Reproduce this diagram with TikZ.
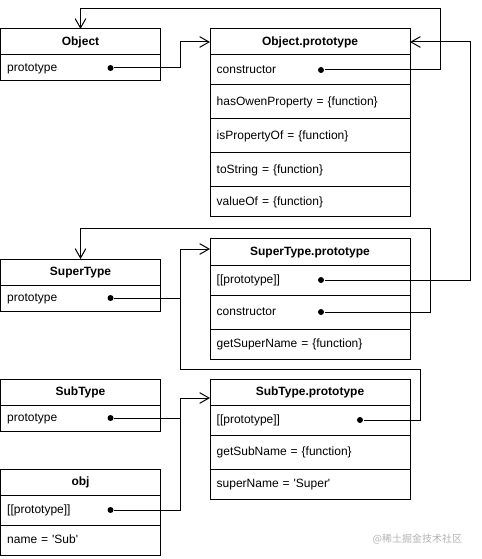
\documentclass[tikz,border=0pt]{standalone}
\usepackage{fontspec}
\setmainfont{Liberation Sans}
\newfontfamily\cjkfont{Noto Sans CJK SC}
\usetikzlibrary{arrows.meta,calc}
\newcommand\fsz{\fontsize{9}{11}\selectfont}
\begin{document}
\begin{tikzpicture}[x=0.75pt,y=-0.75pt,line width=0.75pt,
  hdrW/.style={draw,anchor=north west,inner sep=0pt,outer sep=0pt,minimum width=150pt,minimum height=#1,text height=7pt,text depth=2pt,font=\fsz\bfseries},
  hdrN/.style={draw,anchor=north west,inner sep=0pt,outer sep=0pt,minimum width=120pt,minimum height=#1,text height=7pt,text depth=2pt,font=\fsz\bfseries},
  rowW/.style={draw,anchor=north west,inner xsep=5pt,inner ysep=0pt,outer sep=0pt,text width=140pt,align=left,minimum height=#1,text height=7pt,text depth=2pt,font=\fsz},
  rowN/.style={draw,anchor=north west,inner xsep=5pt,inner ysep=0pt,outer sep=0pt,text width=110pt,align=left,minimum height=#1,text height=7pt,text depth=2pt,font=\fsz},
  dot/.style={circle,fill,inner sep=0pt,minimum size=4.5pt},
  arr/.style={-{Straight Barb[length=7pt,width=8pt]}}]
\useasboundingbox (0,0) rectangle (481,559);
% Object
\node[hdrN=19.5pt] (oH) at (0.5,29) {Object};
\node[rowN=19.5pt] (oR) at (oH.south west) {prototype};
% Object.prototype
\node[hdrW=19.5pt] (opH) at (210,29) {Object.prototype};
\node[rowW=22.5pt] (op1) at (opH.south west) {constructor};
\node[rowW=25.5pt] (op2) at (op1.south west) {hasOwenProperty = \{function\}};
\node[rowW=25.5pt] (op3) at (op2.south west) {isPropertyOf = \{function\}};
\node[rowW=25.5pt] (op4) at (op3.south west) {toString = \{function\}};
\node[rowW=22.5pt] (op5) at (op4.south west) {valueOf = \{function\}};
% SuperType
\node[hdrN=19.5pt] (sH) at (0.5,259) {SuperType};
\node[rowN=19.5pt] (sR) at (sH.south west) {prototype};
% SuperType.prototype
\node[hdrW=19.5pt] (spH) at (210,239) {SuperType.prototype};
\node[rowW=22.5pt] (sp1) at (spH.south west) {[[prototype]]};
\node[rowW=25.5pt] (sp2) at (sp1.south west) {constructor};
\node[rowW=22.5pt] (sp3) at (sp2.south west) {getSuperName = \{function\}};
% SubType
\node[hdrN=19.5pt] (bH) at (0.5,379) {SubType};
\node[rowN=19.5pt] (bR) at (bH.south west) {prototype};
% SubType.prototype
\node[hdrW=19.5pt] (bpH) at (210,379) {SubType.prototype};
\node[rowW=22.5pt] (bp1) at (bpH.south west) {[[prototype]]};
\node[rowW=25.5pt] (bp2) at (bp1.south west) {getSubName = \{function\}};
\node[rowW=22.5pt] (bp3) at (bp2.south west) {superName = \textquotesingle Super\textquotesingle};
% obj
\node[hdrN=19.5pt] (jH) at (0.5,469) {obj};
\node[rowN=22.5pt] (j1) at (jH.south west) {[[prototype]]};
\node[rowN=22.5pt] (j2) at (j1.south west) {name = \textquotesingle Sub\textquotesingle};
% dots
\node[dot] (d1) at ($(oR.west)+(110,0)$) {};
\node[dot] (d2) at ($(op1.west)+(111,0)$) {};
\node[dot] (d3) at ($(sp1.west)+(111,0)$) {};
\node[dot] (d4) at ($(sp2.west)+(111,0)$) {};
\node[dot] (d5) at ($(sR.west)+(110,0)$) {};
\node[dot] (d6) at ($(bp1.west)+(150,0)$) {};
\node[dot] (d7) at ($(bR.west)+(110,0)$) {};
\node[dot] (d8) at ($(j1.west)+(110,0)$) {};
% helper points
\coordinate (c1) at (440,9);
\coordinate (c2) at (470,42);
\coordinate (c3) at (430,229);
\coordinate (t5) at (210,249);
\coordinate (k5) at (180,249);
\coordinate (c6) at (420,369);
\coordinate (t7) at (210,398);
\coordinate (k7) at (180,398);
\coordinate (k1) at (180,42);
% connectors
\draw[arr] (d1) -| (k1) -- (opH.west);
\draw[arr] (d2) -| (c1) -| (oH.north);
\draw[arr] (d3) -| (c2) -- (opH.east);
\draw[arr] (d4) -| (c3) -| (sH.north);
\draw (d5) -| (k5);
\draw[arr] (d6) -| (c6) -| (k5) -- (t5);
\draw[arr] (d7) -| (k7) -- (t7);
\draw (d8) -| (k7);
% watermark
\node[font=\cjkfont\fontsize{7.5}{9}\selectfont,text=black!30,anchor=east] (wm) at (467,539) {@稀土掘金技术社区};
\end{tikzpicture}
\end{document}
